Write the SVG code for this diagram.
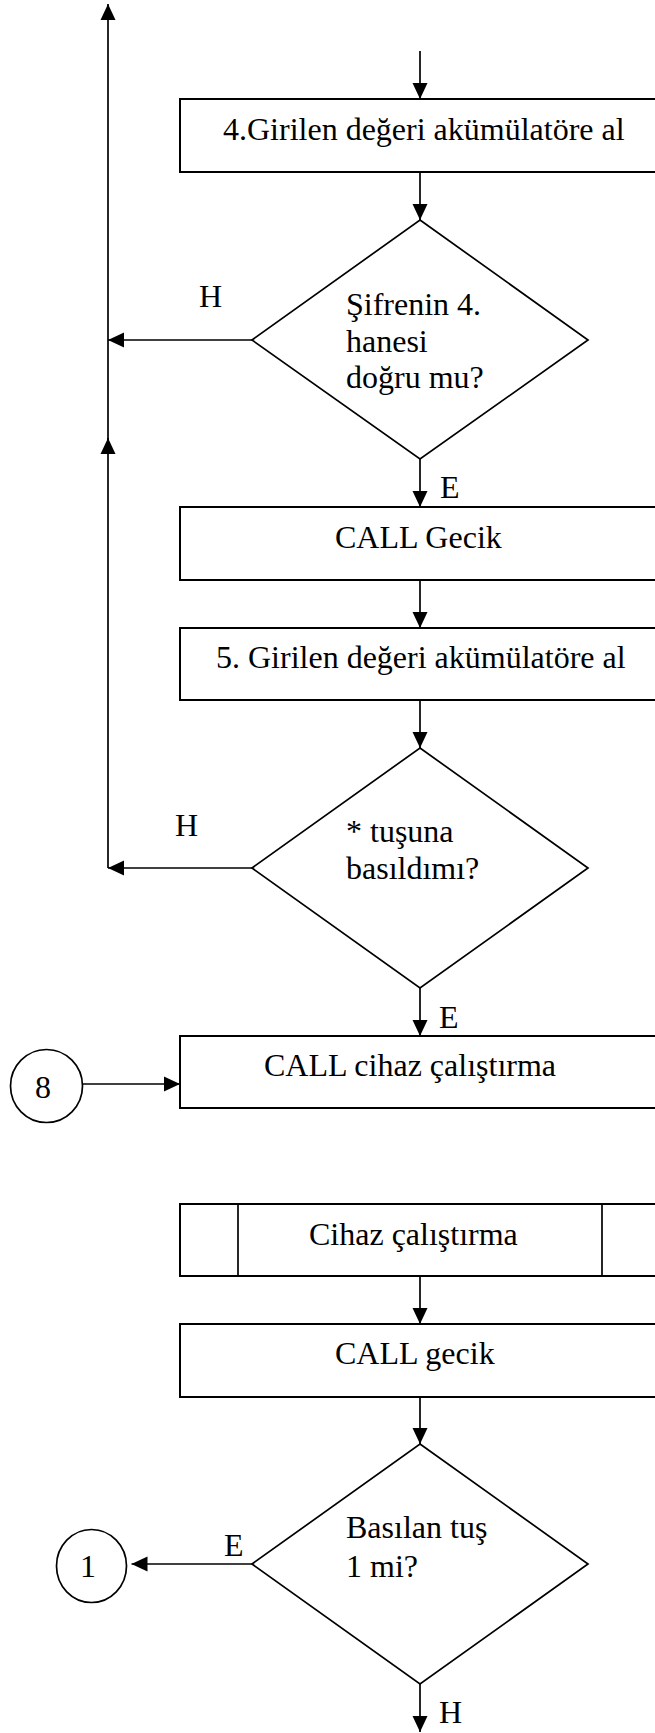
<svg xmlns="http://www.w3.org/2000/svg" width="655" height="1733" viewBox="0 0 655 1733">
  <style>
    .shape { fill: #fff; stroke: #000; stroke-width: 1.7; }
    .box { fill: #fff; stroke: #000; stroke-width: 2; }
    .line { fill: none; stroke: #000; stroke-width: 1.7; }
    text { font-family: "Liberation Serif", "Times New Roman", serif; font-size: 32px; fill: #000; }
  </style>
  <defs>
    <marker id="arrow" viewBox="0 0 16 16" markerWidth="16" markerHeight="16" markerUnits="userSpaceOnUse" refX="16" refY="8" orient="auto">
      <path d="M0,0.5 L16,8 L0,15.5 z" fill="#000"/>
    </marker>
  </defs>
  <rect width="655" height="1733" fill="#fff"/>

  <!-- connectors -->
  <g id="connectors">
    <line class="line" x1="108" y1="868" x2="108" y2="438" marker-end="url(#arrow)"/>
    <line class="line" x1="108" y1="440" x2="108" y2="4" marker-end="url(#arrow)"/>
    <line class="line" x1="420" y1="51" x2="420" y2="99" marker-end="url(#arrow)"/>
    <line class="line" x1="420" y1="172" x2="420" y2="220" marker-end="url(#arrow)"/>
    <line class="line" x1="252" y1="340" x2="108" y2="340" marker-end="url(#arrow)"/>
    <line class="line" x1="420" y1="459" x2="420" y2="507" marker-end="url(#arrow)"/>
    <line class="line" x1="420" y1="580" x2="420" y2="628" marker-end="url(#arrow)"/>
    <line class="line" x1="420" y1="700" x2="420" y2="748" marker-end="url(#arrow)"/>
    <line class="line" x1="252" y1="868" x2="108" y2="868" marker-end="url(#arrow)"/>
    <line class="line" x1="420" y1="988" x2="420" y2="1036" marker-end="url(#arrow)"/>
    <line class="line" x1="83" y1="1084" x2="180" y2="1084" marker-end="url(#arrow)"/>
    <line class="line" x1="420" y1="1276" x2="420" y2="1324" marker-end="url(#arrow)"/>
    <line class="line" x1="420" y1="1397" x2="420" y2="1444" marker-end="url(#arrow)"/>
    <line class="line" x1="252" y1="1564" x2="131.5" y2="1564" marker-end="url(#arrow)"/>
    <line class="line" x1="420" y1="1684" x2="420" y2="1732" marker-end="url(#arrow)"/>

    <text x="199" y="307">H</text>
    <text x="440" y="498">E</text>
    <text x="175" y="836">H</text>
    <text x="439" y="1028">E</text>
    <text x="224" y="1556">E</text>
    <text x="439" y="1723">H</text>
  </g>

  <!-- nodes -->
  <g id="step4-load">
    <rect class="box" x="180" y="99" width="480" height="73"/>
    <text x="223" y="140">4.Girilen değeri akümülatöre al</text>
  </g>

  <g id="check-digit4">
    <polygon class="shape" points="420,220 588,340 420,459 252,340"/>
    <text x="346" y="315">Şifrenin 4.</text>
    <text x="346" y="352">hanesi</text>
    <text x="346" y="388">doğru mu?</text>
  </g>

  <g id="delay-1">
    <rect class="box" x="180" y="507" width="480" height="73"/>
    <text x="335" y="548">CALL Gecik</text>
  </g>

  <g id="step5-load">
    <rect class="box" x="180" y="628" width="480" height="72"/>
    <text x="216" y="668">5. Girilen değeri akümülatöre al</text>
  </g>

  <g id="check-star">
    <polygon class="shape" points="420,748 588,868 420,988 252,868"/>
    <text x="346" y="842">* tuşuna</text>
    <text x="346" y="879">basıldımı?</text>
  </g>

  <g id="call-device">
    <rect class="box" x="180" y="1036" width="480" height="72"/>
    <text x="264" y="1076">CALL cihaz çalıştırma</text>
  </g>

  <g id="connector-8">
    <ellipse class="shape" cx="46.5" cy="1086" rx="36" ry="36.5"/>
    <text x="35" y="1098">8</text>
  </g>

  <g id="sub-device">
    <rect class="box" x="180" y="1204" width="480" height="72"/>
    <line class="line" x1="238" y1="1204" x2="238" y2="1276"/>
    <line class="line" x1="602" y1="1204" x2="602" y2="1276"/>
    <text x="309" y="1245">Cihaz çalıştırma</text>
  </g>

  <g id="delay-2">
    <rect class="box" x="180" y="1324" width="480" height="73"/>
    <text x="335" y="1364">CALL gecik</text>
  </g>

  <g id="check-key1">
    <polygon class="shape" points="420,1444 588,1564 420,1684 252,1564"/>
    <text x="346" y="1538">Basılan tuş</text>
    <text x="346" y="1577">1 mi?</text>
  </g>

  <g id="connector-1">
    <ellipse class="shape" cx="91.5" cy="1566" rx="35" ry="36.5"/>
    <text x="80" y="1577">1</text>
  </g>
</svg>
